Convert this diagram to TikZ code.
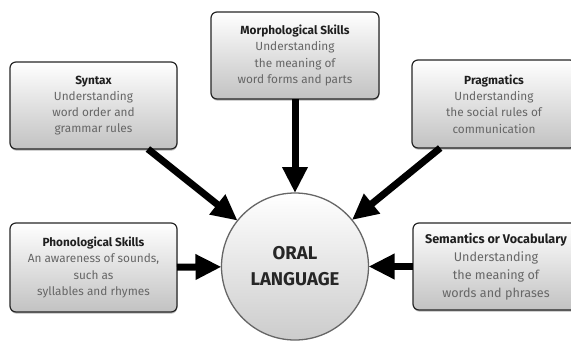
\documentclass[tikz,border=0pt]{standalone}
\usepackage{fontspec}
\setmainfont{Fira Sans}
\usetikzlibrary{arrows.meta,shadows}
\begin{document}
\begin{tikzpicture}[x=1pt,y=-1pt,
  box/.style={draw=black!85, line width=1.2pt, rounded corners=6pt,
    top color=white, bottom color=black!24,
    minimum width=167pt, minimum height=87pt, inner sep=0pt, outer sep=0pt,
    align=center, text=black!60, font=\fontsize{11.8}{16.2}\selectfont,
    drop shadow={shadow xshift=0.3pt, shadow yshift=-1.6pt, opacity=0.55}},
  hub/.style={circle, draw=black!60, line width=1.3pt, top color=white, bottom color=black!20,
    minimum size=147pt, inner sep=0pt, outer sep=0pt, align=center,
    font=\fontsize{18.5}{26}\selectfont\bfseries, text=black!85},
  arr/.style={line width=7pt, -{Triangle[width=24pt,length=26pt]}, black}]
\clip (0,0) rectangle (571,341);
\fill[white] (0,0) rectangle (571,341);
\node[box] (syn) at (93.5,105.5) {\textbf{\color{black!88}Syntax}\\Understanding\\word order and\\grammar rules};
\node[box, minimum width=168pt] (mor) at (295,55.5) {\textbf{\color{black!88}Morphological Skills}\\Understanding\\the meaning of\\word forms and parts};
\node[box, minimum width=164pt, minimum height=88pt] (pra) at (494,104) {\textbf{\color{black!88}Pragmatics}\\Understanding\\the social rules of\\communication};
\node[box, minimum height=89pt] (pho) at (93.5,267.5) {\textbf{\color{black!88}Phonological Skills}\\An awareness of sounds,\\such as\\syllables and rhymes};
\node[box, minimum width=166pt, font=\fontsize{12.6}{18}\selectfont] (sem) at (496,266.5) {\textbf{\color{black!88}Semantics or Vocabulary}\\Understanding\\the meaning of\\words and phrases};
\node[hub] (ol) at (295,266.5) {ORAL\\LANGUAGE};
\draw[arr] (syn) -- (ol);
\draw[arr] (mor) -- (ol);
\draw[arr] (pra) -- (ol);
\draw[arr] (pho) -- (ol);
\draw[arr] (sem) -- (ol);
\end{tikzpicture}
\end{document}
